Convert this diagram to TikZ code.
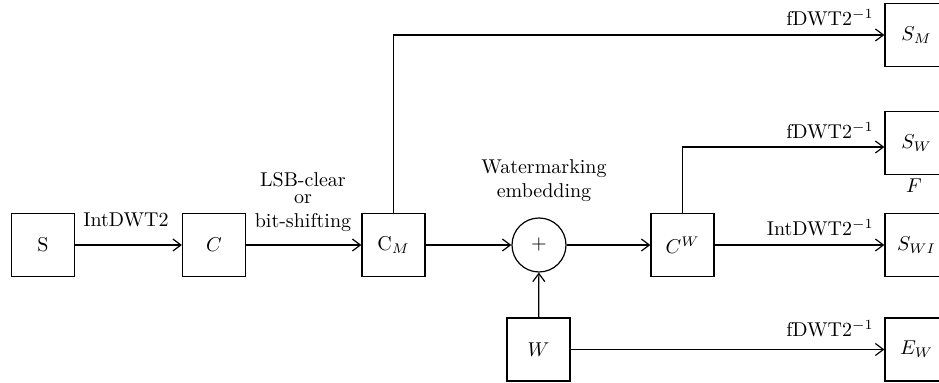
\documentclass[tikz,border=0pt]{standalone}
\usetikzlibrary{arrows.meta}
\begin{document}
\begin{tikzpicture}[x=0.5pt,y=-0.5pt,
  box/.style={draw,line width=0.6pt,minimum size=31.5pt,inner sep=0pt,font=\fontsize{10}{12}\selectfont},
  sumnode/.style={draw,circle,line width=0.6pt,minimum size=27pt,inner sep=0pt},
  arr/.style={line width=0.6pt,-{Straight Barb[length=4pt,width=6pt,line width=0.6pt]}},
  ln/.style={line width=0.6pt},
  lbl/.style={inner sep=0pt,font=\fontsize{10}{12}\selectfont}]
\useasboundingbox (0,0) rectangle (939,383);
\clip (0,0) rectangle (939,383);
% main chain
\node[box] (S)  at (43,245)  {S};
\node[box] (C)  at (214,245) {$C$};
\node[box] (CM) at (393.5,245) {$\mathrm{C}_M$};
\node[sumnode] (P) at (539,245) {$+$};
\node[box] (CW) at (682.5,245) {$C^W$};
\node[box] (W)  at (538.5,349.5) {$W$};
% outputs
\node[box] (SM)  at (916.5,35)    {$S_M$};
\node[box] (SW)  at (916.5,143)   {$S_W$};
\node[box] (SWI) at (916.5,245)   {$S_{WI}$};
\node[box] (EW)  at (916.5,349.5) {$E_W$};
% connectors
\draw[arr] (S) -- (C);
\draw[arr] (C) -- (CM);
\draw[arr] (CM) -- (P);
\draw[arr] (P) -- (CW);
\draw[arr] (W) -- (P);
\draw[arr] (CW) -- (SWI);
\draw[arr] (W) -- (EW);
\draw[arr] (CM.north) |- (SM.west);
\draw[arr] (CW.north) |- ([yshift=-2pt]SW.west);
% labels
\node[lbl,anchor=base] (l1) at (126,227) {IntDWT2};
\node[lbl,anchor=north,align=center] (l2) at (303,172) {LSB-clear\\[-3.5pt]or\\bit-shifting};
\node[lbl,anchor=north,align=center] (l3) at (544,159) {Watermarking\\embedding};
\node[lbl,anchor=base east] (l4) at (874,26)  {fDWT2$^{-1}$};
\node[lbl,anchor=base east] (l5) at (874,139) {fDWT2$^{-1}$};
\node[lbl,anchor=base east] (l6) at (874,236) {IntDWT2$^{-1}$};
\node[lbl,anchor=base east] (l7) at (874,337) {fDWT2$^{-1}$};
\node[lbl,anchor=base] (F) at (914,193) {$F$};
\end{tikzpicture}
\end{document}
